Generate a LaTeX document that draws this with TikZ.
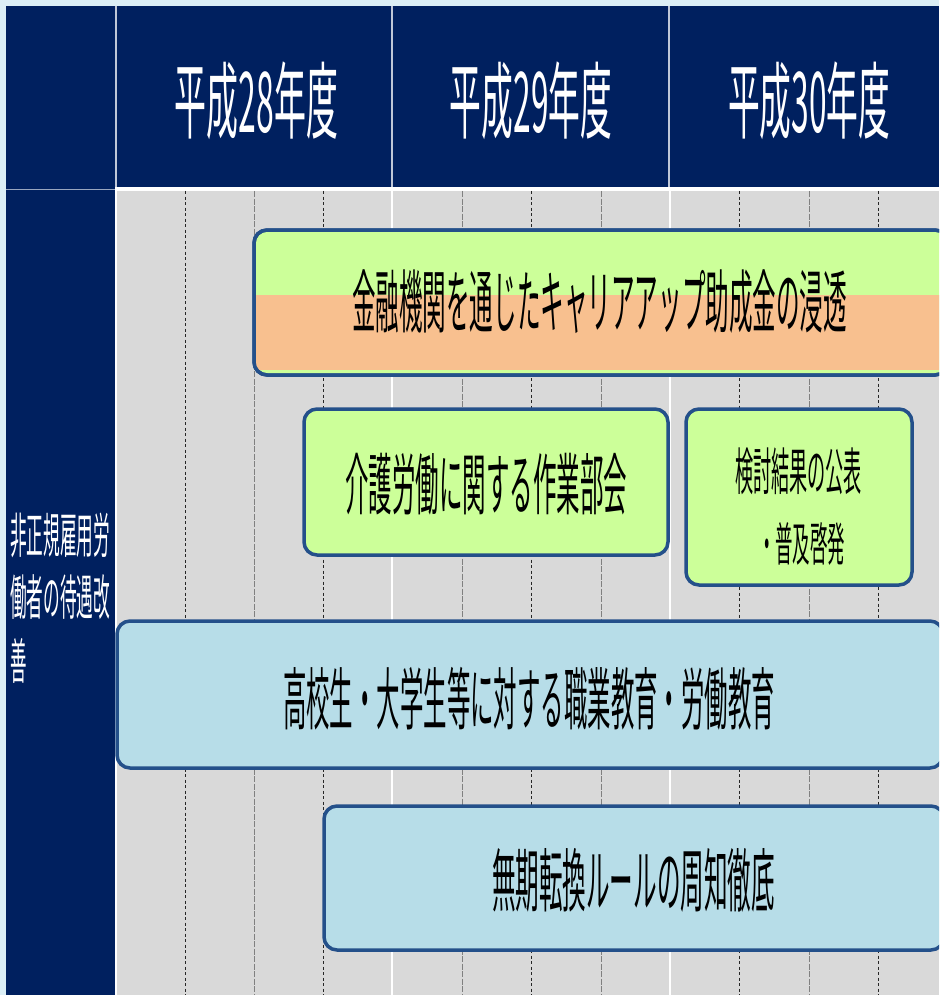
\documentclass[tikz,border=0pt]{standalone}
\usepackage{fontspec}
\usepackage{graphicx}
\newfontfamily\jp{Noto Sans CJK JP}
\definecolor{navy}{HTML}{00205F}
\definecolor{framec}{HTML}{DCEFF6}
\definecolor{bodygray}{HTML}{D9D9D9}
\definecolor{lgreen}{HTML}{CCFF99}
\definecolor{lorange}{HTML}{F8C08F}
\definecolor{lblue}{HTML}{B7DDE8}
\definecolor{bord}{HTML}{24508A}
\newcommand{\fitt}[3]{\resizebox*{#1pt}{#2pt}{\jp #3}}
\begin{document}
\begin{tikzpicture}[x=1pt,y=-1pt,
 bar/.style={draw=bord, line width=3.5pt, rounded corners=13pt, inner sep=0pt, outer sep=0pt},
 txt/.style={inner sep=0pt, outer sep=0pt, text=black},
 hdr/.style={inner sep=0pt, outer sep=0pt, text=white},
 qdark/.style={black!85, line width=0.9pt, dash pattern=on 3pt off 2.5pt},
 qlight/.style={black!50, line width=0.8pt, dash pattern=on 6pt off 1.5pt},
 sepline/.style={white, line width=2pt}]
\useasboundingbox (0,0) rectangle (939,995);
\begin{scope}
\clip (0,0) rectangle (939,995);
\fill[framec] (0,0) rectangle (939,995);
\fill[navy] (6,6) rectangle (939,995);
\fill[bodygray] (116,191) rectangle (939,995);
% header separators
\draw[white!75!navy, line width=1.2pt] (116,6) -- (116,187) (392,6) -- (392,187) (669,6) -- (669,187);
\draw[white, line width=4pt] (115,189) -- (939,189);
\draw[white!60!navy, line width=1pt] (6,190) -- (115,190);
\draw[sepline] (116,191) -- (116,995) (392,191) -- (392,995) (670,191) -- (670,995);
% quarter lines
\foreach \xx in {185,323,531,739,878} \draw[qdark] (\xx,191) -- (\xx,995);
\foreach \xx in {254,462,601,809} \draw[qlight] (\xx,191) -- (\xx,995);
% headers
\node[hdr] (h28) at (256.5,101) {\fitt{163}{78}{平成28年度}};
\node[hdr] (h29) at (531,101) {\fitt{162}{78}{平成29年度}};
\node[hdr] (h30) at (809,101) {\fitt{162}{78}{平成30年度}};
% left label
\node[hdr] (l1) at (60,535.5) {\fitt{100}{45}{非正規雇用労}};
\node[hdr] (l2) at (60,597.5) {\fitt{100}{45}{働者の待遇改}};
\node[hdr, anchor=west] (l3) at (10,660.5) {\fitt{16.5}{45}{善}};
% box 1
\node[bar, fill=lgreen, minimum width=694pt, minimum height=145pt] (b1) at (601,302.5) {};
\begin{scope}
\clip[rounded corners=13pt] (b1.north west) rectangle (b1.south east);
\fill[lorange] (240,295) rectangle (960,370);
\end{scope}
\draw[bord, line width=3.5pt, rounded corners=13pt] (b1.north west) rectangle (b1.south east);
\node[txt] (t1) at (599.5,302) {\fitt{495}{64}{金融機関を通じたキャリアアップ助成金の浸透}};
% box 2
\node[bar, fill=lgreen, minimum width=364pt, minimum height=146pt] (b2) at (486,482) {};
\node[txt] (t2) at (486,484) {\fitt{282}{62}{介護労働に関する作業部会}};
% box 3
\node[bar, fill=lgreen, minimum width=226pt, minimum height=176pt] (b3) at (799,497) {};
\node[txt] (t3a) at (798.5,471.5) {\fitt{127}{47}{検討結果の公表}};
\node[txt] (t3b) at (801.5,543.5) {\fitt{87}{43}{・普及啓発}};
% box 4
\node[bar, fill=lblue, minimum width=826pt, minimum height=147pt] (b4) at (530,694.5) {};
\node[txt] (t4) at (529,698.5) {\fitt{492}{63}{高校生・大学生等に対する職業教育・労働教育}};
% box 5
\node[bar, fill=lblue, minimum width=620pt, minimum height=144pt] (b5) at (634,878) {};
\node[txt] (t5) at (633.5,880) {\fitt{283}{64}{無期転換ルールの周知徹底}};
\end{scope}
\end{tikzpicture}
\end{document}
